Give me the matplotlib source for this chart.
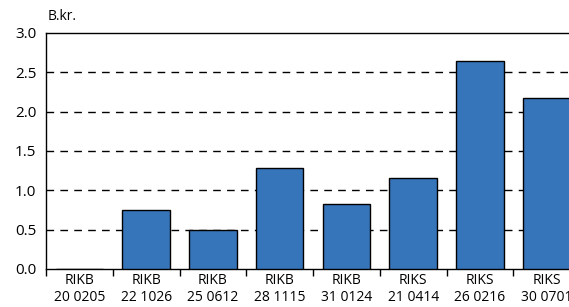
import matplotlib.pyplot as plt
import numpy as np

plt.rcParams["font.family"] = ["Open Sans", "DejaVu Sans"]

labels = ["RIKB\n20 0205", "RIKB\n22 1026", "RIKB\n25 0612", "RIKB\n28 1115",
          "RIKB\n31 0124", "RIKS\n21 0414", "RIKS\n26 0216", "RIKS\n30 0701"]
values = [0.0, 0.75, 0.49, 1.28, 0.82, 1.16, 2.64, 2.17]

fig = plt.figure(figsize=(5.69, 3.07), dpi=100)
# the plot area runs past the right edge of the picture, as in the original
ax = fig.add_axes([46 / 569, 38 / 307, 534 / 569, 236 / 307])

x = np.arange(len(values))
ax.bar(x, values, width=0.71, color="#3775BA", edgecolor="black", linewidth=1, zorder=3)

ax.set_xlim(-0.5, len(values) - 0.5)
ax.set_ylim(0, 3.0)
ax.set_yticks([0, 0.5, 1.0, 1.5, 2.0, 2.5, 3.0])
ax.set_yticklabels(["0.0", "0.5", "1.0", "1.5", "2.0", "2.5", "3.0"], fontsize=11)
ax.tick_params(axis="y", length=0, pad=7)

for y in [0.5, 1.0, 1.5, 2.0, 2.5]:
    ax.axhline(y, color="black", linestyle=(0, (5.5, 4.5)), linewidth=1, zorder=1)

ax.set_xticks(x)
ax.set_xticklabels(labels, fontsize=10, linespacing=1.2)
ax.tick_params(axis="x", which="major", length=0, pad=3)
ax.set_xticks(np.arange(len(values) + 1) - 0.5, minor=True)
ax.tick_params(axis="x", which="minor", length=5, width=1, color="black")

ax.spines["right"].set_visible(False)
for s in ["left", "bottom", "top"]:
    ax.spines[s].set_linewidth(1)
    ax.spines[s].set_color("black")

fig.text(48 / 569, 1 - 17 / 307, "B.kr.", fontsize=10, va="center", ha="left")

fig.savefig("out.png", dpi=100)
